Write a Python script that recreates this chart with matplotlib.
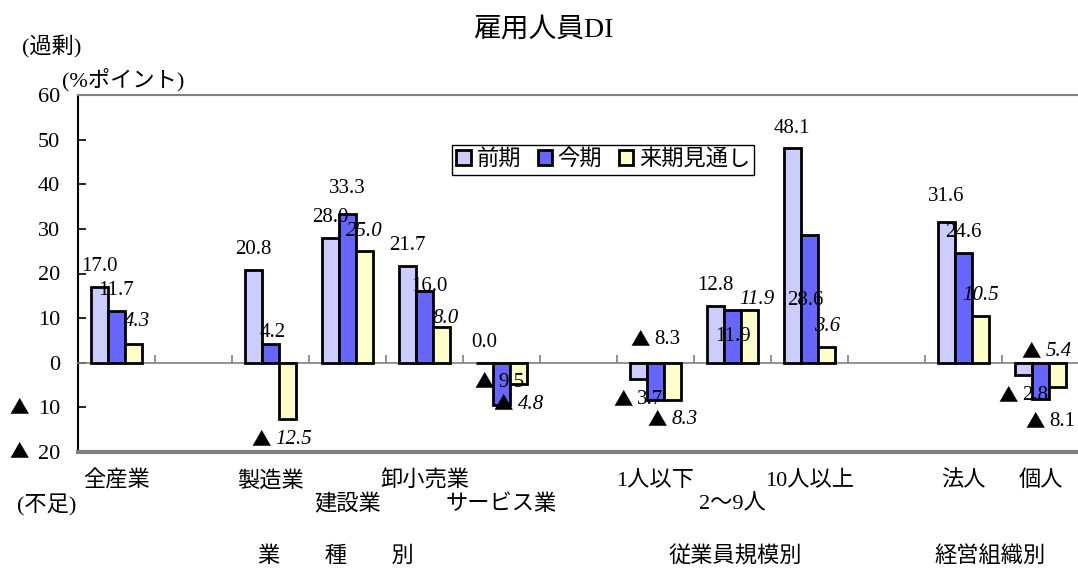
import matplotlib
matplotlib.use('Agg')
import matplotlib.pyplot as plt
import matplotlib.transforms as mtransforms
from matplotlib.patches import Patch
from matplotlib.offsetbox import AnnotationBbox, HPacker, TextArea
import numpy as np

SERIF = ['Liberation Serif', 'Noto Sans CJK JP', 'DejaVu Sans']
CJK = ['Noto Sans CJK JP', 'DejaVu Sans']
plt.rcParams['font.family'] = SERIF

# 雇用人員DI（%ポイント）
categories = ['全産業', '製造業', '建設業', '卸小売業', 'サービス業',
              '1人以下', '2～9人', '10人以上', '法人', '個人']
series_names = ['前期', '今期', '来期見通し']
zenki = [17.0, 20.8, 28.0, 21.7, 0.0, -3.7, 12.8, 48.1, 31.6, -2.8]
konki = [11.7, 4.2, 33.3, 16.0, -9.5, -8.3, 11.9, 28.6, 24.6, -8.1]
raiki = [4.3, -12.5, 25.0, 8.0, -4.8, -8.3, 11.9, 3.6, 10.5, -5.4]
groups = ['業　　種　　別', '従業員規模別', '経営組織別']
yticks = [-20, -10, 0, 10, 20, 30, 40, 50, 60]

# layout: slot of each category (gaps between groups), label row, group centres
slots = [0, 2, 3, 4, 5, 7, 8, 9, 11, 12]
label_row = [0, 0, 1, 0, 1, 0, 1, 0, 0, 0]
group_x = [2.85, 8.03, 11.34]
colors = ['#CCCCFF', '#6666FF', '#FFFFCC']
bar_w = 0.225

# hand-placed value labels (pixels, dx / dy up); others sit just outside the bar end
label_shift = {
    (0, 2): (3, 22), (1, 1): (2, 12), (1, 2): (-6, -21), (2, 1): (0, 26),
    (3, 1): (5, 5), (3, 2): (4, 9), (4, 1): (-2, 23), (5, 1): (0, 60),
    (6, 1): (0, -27), (6, 2): (7, 10), (7, 1): (-4, -65), (8, 0): (0, 25),
    (9, 1): (10, -23), (9, 2): (-11, 35),
}

W, H = 1078, 568
PT = 72 / 100  # points per pixel
fig = plt.figure(figsize=(W / 100, H / 100), dpi=100)
ax = fig.add_axes([78 / W, 1 - 452 / H, 1001 / W, 357 / H])


def value_label(xv, v, dx, dy, italic):
    style = 'italic' if italic else 'normal'
    num = TextArea('%.1f' % abs(v),
                   textprops=dict(fontsize=15, style=style, family=SERIF))
    if v < 0:
        tri = TextArea('▲', textprops=dict(fontsize=14, family=CJK))
        box = HPacker(children=[tri, num], align='center', pad=0, sep=3)
    else:
        box = num
    ab = AnnotationBbox(box, (xv, v), xybox=(dx * PT, dy * PT),
                        xycoords='data', boxcoords='offset points',
                        box_alignment=(0.5, 0.5), frameon=False, pad=0,
                        zorder=5, annotation_clip=False)
    ax.add_artist(ab)


series = [zenki, konki, raiki]
x = np.array(slots, dtype=float)
for j, vals in enumerate(series):
    ax.bar(x + (j - 1) * bar_w, vals, bar_w, color=colors[j],
           edgecolor='black', linewidth=2, zorder=3)
    for i, v in enumerate(vals):
        dx, dy = label_shift.get((i, j), (0, 20 if v >= 0 else -20))
        value_label(x[i] + (j - 1) * bar_w, v, dx, dy, j == 2)

ax.set_xlim(-0.5, 12.5)
ax.set_ylim(-20, 60)
ax.set_yticks(yticks)
ax.set_yticklabels([str(abs(t)) for t in yticks], fontsize=16)
ax.tick_params(axis='y', direction='in', length=6, width=1.2, color='black',
               pad=13)
# shortage marks in front of the negative tick values
ytrans = mtransforms.blended_transform_factory(fig.transFigure, ax.transData)
for t in yticks:
    if t < 0:
        fig.text(19 / W, t, '▲', transform=ytrans, ha='center', va='center',
                 fontsize=14, family=CJK)

# category axis crossing at zero, ticks between slots
ax.spines['bottom'].set_position(('data', 0))
ax.spines['bottom'].set_color('#808080')
ax.spines['bottom'].set_linewidth(1.2)
ax.set_xticks(np.arange(0.5, 12.5, 1.0))
ax.tick_params(axis='x', direction='in', length=6, width=1.2, color='#808080',
               labelbottom=False)
ax.spines['left'].set_color('black')
ax.spines['left'].set_linewidth(1.5)
ax.spines['top'].set_color('#808080')
ax.spines['top'].set_linewidth(1.5)
ax.spines['right'].set_visible(False)
ax.axhline(-20, color='#808080', linewidth=3, clip_on=False, zorder=4)

# category and group names under the plot area
trans = mtransforms.blended_transform_factory(ax.transData, fig.transFigure)
for i, name in enumerate(categories):
    y = 481 if label_row[i] == 0 else 505
    ax.text(x[i], 1 - y / H, name, transform=trans, ha='center', va='center',
            fontsize=16)
for gx, g in zip(group_x, groups):
    ax.text(gx, 1 - 557 / H, g, transform=trans, ha='center', va='center',
            fontsize=16)

fig.text(543 / W, 1 - 30 / H, '雇用人員DI', ha='center', va='center', fontsize=20)
fig.text(22 / W, 1 - 47 / H, '(過剰)', ha='left', va='center', fontsize=16)
fig.text(62 / W, 1 - 80 / H, '(%ポイント)', ha='left', va='center', fontsize=16)
fig.text(17 / W, 1 - 505 / H, '(不足)', ha='left', va='center', fontsize=16)

handles = [Patch(facecolor=c, edgecolor='black', linewidth=2) for c in colors]
leg = fig.legend(handles, series_names, loc='upper left',
                 bbox_to_anchor=(452 / W, 1 - 145 / H), ncol=3, fontsize=16,
                 frameon=True, fancybox=False, framealpha=1, borderpad=0.2,
                 handlelength=0.65, handleheight=0.65, handletextpad=0.25,
                 columnspacing=0.75, borderaxespad=0)
leg.get_frame().set_edgecolor('black')
leg.get_frame().set_linewidth(1.0)

fig.savefig('out.png', dpi=100)
